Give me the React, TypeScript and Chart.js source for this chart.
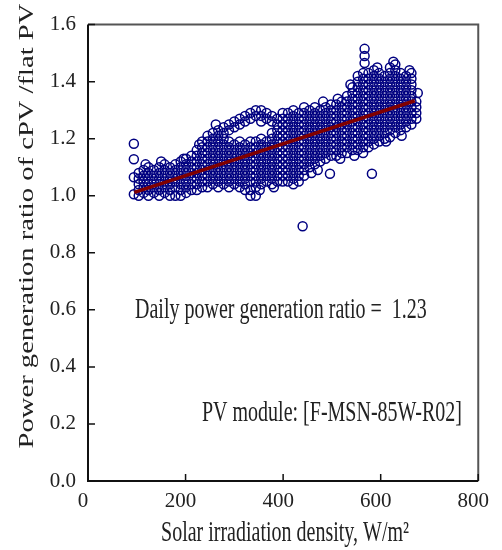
import React, { useEffect, useRef } from 'react';
import { Chart, registerables } from 'chart.js';

Chart.register(...registerables);

const xTicks = [0, 200, 400, 600, 800];
const yTicks = [0, 0.2, 0.4, 0.6, 0.8, 1.0, 1.2, 1.4, 1.6];
const xTitle = 'Solar irradiation density, W/m²';
const yTitle = 'Power generation ratio of cPV /flat PV';
const ratioNote = 'Daily power generation ratio =  1.23';
const moduleNote = 'PV module: [F-MSN-85W-R02]';

// Irradiance (W/m²) of each group of measurements, and the ratios measured at it
const columnIrradiance = [
  104, 114, 124, 135, 146, 157, 168, 179, 190, 201, 212, 223, 234, 245, 256, 267, 278, 289,
  300, 311, 322, 333, 344, 355, 366, 377, 388, 399, 410, 421, 432, 443, 454, 465, 476, 487,
  498, 509, 520, 531, 542, 553, 564, 575, 586, 597, 608, 619, 630, 641, 652, 663, 673,
];
const columnRatios: number[][] = [
  [1.00, 1.02, 1.04, 1.06, 1.08],
  [1.01, 1.03, 1.05, 1.07, 1.09],
  [1.00, 1.02, 1.04, 1.06, 1.08, 1.10],
  [1.01, 1.03, 1.05, 1.07, 1.09],
  [1.00, 1.02, 1.04, 1.06, 1.08, 1.10],
  [1.01, 1.03, 1.05, 1.07, 1.09, 1.11],
  [1.00, 1.02, 1.04, 1.06, 1.08, 1.10],
  [1.00, 1.03, 1.05, 1.07, 1.09, 1.11],
  [1.00, 1.02, 1.04, 1.06, 1.08, 1.10, 1.12],
  [1.01, 1.03, 1.05, 1.07, 1.09, 1.11, 1.13],
  [1.02, 1.04, 1.06, 1.08, 1.10, 1.12, 1.14],
  [1.02, 1.04, 1.06, 1.08, 1.10, 1.12, 1.14, 1.16],
  [1.03, 1.05, 1.07, 1.09, 1.11, 1.13, 1.15, 1.17, 1.19],
  [1.03, 1.05, 1.07, 1.09, 1.11, 1.13, 1.15, 1.17, 1.19, 1.21],
  [1.04, 1.06, 1.08, 1.10, 1.12, 1.14, 1.16, 1.18, 1.20, 1.22],
  [1.03, 1.05, 1.07, 1.09, 1.11, 1.13, 1.15, 1.17, 1.19, 1.21, 1.23],
  [1.04, 1.06, 1.08, 1.10, 1.12, 1.14, 1.16, 1.18, 1.20, 1.22, 1.24],
  [1.03, 1.05, 1.07, 1.09, 1.11, 1.13, 1.15, 1.17, 1.19, 1.23, 1.25],
  [1.04, 1.06, 1.08, 1.10, 1.12, 1.14, 1.16, 1.18, 1.24, 1.26],
  [1.03, 1.05, 1.07, 1.09, 1.11, 1.13, 1.15, 1.17, 1.19, 1.25, 1.27],
  [1.02, 1.04, 1.06, 1.08, 1.10, 1.12, 1.14, 1.16, 1.18, 1.26, 1.28],
  [1.00, 1.02, 1.05, 1.07, 1.09, 1.11, 1.13, 1.15, 1.17, 1.19, 1.27, 1.29],
  [1.00, 1.03, 1.05, 1.07, 1.09, 1.11, 1.13, 1.15, 1.17, 1.19, 1.28, 1.30],
  [1.04, 1.06, 1.08, 1.10, 1.12, 1.14, 1.16, 1.18, 1.20, 1.26, 1.28, 1.30],
  [1.05, 1.07, 1.09, 1.11, 1.13, 1.15, 1.17, 1.19, 1.27, 1.29],
  [1.04, 1.06, 1.08, 1.10, 1.12, 1.14, 1.16, 1.18, 1.20, 1.22, 1.26, 1.28],
  [1.05, 1.07, 1.09, 1.11, 1.13, 1.15, 1.17, 1.19, 1.21, 1.23, 1.25, 1.27],
  [1.05, 1.07, 1.09, 1.11, 1.13, 1.15, 1.17, 1.19, 1.21, 1.23, 1.25, 1.27, 1.29],
  [1.05, 1.07, 1.09, 1.11, 1.13, 1.15, 1.17, 1.19, 1.21, 1.23, 1.25, 1.27, 1.29],
  [1.04, 1.06, 1.08, 1.10, 1.12, 1.14, 1.16, 1.18, 1.20, 1.22, 1.24, 1.26, 1.28, 1.30],
  [1.05, 1.07, 1.09, 1.11, 1.13, 1.15, 1.17, 1.19, 1.21, 1.23, 1.25, 1.27, 1.29],
  [1.07, 1.09, 1.11, 1.13, 1.15, 1.17, 1.19, 1.21, 1.23, 1.25, 1.27, 1.29, 1.31],
  [1.10, 1.12, 1.14, 1.16, 1.18, 1.20, 1.22, 1.24, 1.26, 1.28, 1.30],
  [1.11, 1.13, 1.15, 1.17, 1.19, 1.21, 1.23, 1.25, 1.27, 1.29, 1.31],
  [1.12, 1.14, 1.16, 1.18, 1.20, 1.22, 1.24, 1.26, 1.28, 1.30],
  [1.13, 1.15, 1.17, 1.19, 1.21, 1.23, 1.25, 1.27, 1.29, 1.31],
  [1.14, 1.16, 1.18, 1.20, 1.22, 1.24, 1.26, 1.28, 1.30, 1.32],
  [1.14, 1.16, 1.18, 1.20, 1.22, 1.24, 1.26, 1.28, 1.30, 1.32],
  [1.15, 1.17, 1.19, 1.21, 1.23, 1.25, 1.27, 1.29, 1.31, 1.33],
  [1.15, 1.17, 1.19, 1.21, 1.23, 1.25, 1.27, 1.29, 1.31, 1.33, 1.35],
  [1.16, 1.18, 1.20, 1.22, 1.24, 1.26, 1.28, 1.30, 1.32, 1.34, 1.36, 1.38],
  [1.16, 1.18, 1.20, 1.22, 1.24, 1.26, 1.28, 1.30, 1.32, 1.34, 1.36, 1.38, 1.40, 1.42],
  [1.15, 1.17, 1.19, 1.21, 1.23, 1.25, 1.27, 1.29, 1.31, 1.33, 1.35, 1.37, 1.39, 1.41, 1.43],
  [1.17, 1.19, 1.21, 1.23, 1.25, 1.27, 1.29, 1.31, 1.33, 1.35, 1.37, 1.39, 1.41, 1.43],
  [1.18, 1.20, 1.22, 1.24, 1.26, 1.28, 1.30, 1.32, 1.34, 1.36, 1.38, 1.40, 1.42, 1.44],
  [1.19, 1.21, 1.23, 1.25, 1.27, 1.29, 1.31, 1.33, 1.35, 1.37, 1.39, 1.41, 1.43],
  [1.20, 1.22, 1.24, 1.26, 1.28, 1.30, 1.32, 1.34, 1.36, 1.38, 1.40, 1.42],
  [1.205, 1.23, 1.25, 1.27, 1.29, 1.31, 1.33, 1.35, 1.37, 1.39, 1.41, 1.43, 1.45],
  [1.22, 1.24, 1.26, 1.28, 1.30, 1.32, 1.34, 1.36, 1.38, 1.40, 1.42, 1.44, 1.46],
  [1.23, 1.25, 1.27, 1.29, 1.31, 1.33, 1.35, 1.37, 1.39, 1.41, 1.43],
  [1.24, 1.26, 1.28, 1.30, 1.32, 1.34, 1.36, 1.38, 1.40, 1.42],
  [1.25, 1.27, 1.29, 1.31, 1.33, 1.35, 1.37, 1.39, 1.41, 1.43],
  [1.27, 1.29, 1.31, 1.33],
];

// Scattered measurements along the edges of the main cloud
const edgeIrradiance = [118, 150, 196, 228, 262, 352, 381, 458, 471, 517, 546, 611, 643, 482, 512, 538, 593, 626, 659, 676];
const edgeRatio = [1.11, 1.12, 1.13, 1.18, 1.25, 1.02, 1.03, 1.08, 1.09, 1.13, 1.14, 1.19, 1.21, 1.33, 1.34, 1.39, 1.45, 1.47, 1.44, 1.36];

// Isolated measurements
const outlierIrradiance = [94, 94, 94, 94, 440, 496, 567, 567, 567, 582];
const outlierRatio = [1.005, 1.065, 1.128, 1.182, 0.893, 1.077, 1.465, 1.49, 1.515, 1.077];

// Linear fit
const fitIrradiance = [95, 670];
const fitRatio = [1.012, 1.333];

const TEXT_COLOR = '#222';
const SERIF = '"Liberation Serif", "Times New Roman", serif';
const STRETCH = 1.43;

const framePlugin = {
  id: 'frameAndText',
  afterDraw(chart: any) {
    const { ctx, chartArea } = chart;
    const { left, right, top, bottom } = chartArea;
    const xs = chart.scales.x;
    const ys = chart.scales.y;
    ctx.save();
    // frame
    ctx.lineWidth = 2;
    ctx.strokeStyle = '#555';
    ctx.beginPath();
    ctx.moveTo(left, top);
    ctx.lineTo(right, top);
    ctx.lineTo(right, bottom);
    ctx.stroke();
    ctx.strokeStyle = '#111';
    ctx.beginPath();
    ctx.moveTo(left, top);
    ctx.lineTo(left, bottom);
    ctx.lineTo(right, bottom);
    ctx.stroke();
    // inward tick marks
    ctx.lineWidth = 1.5;
    ctx.beginPath();
    yTicks.forEach((v) => {
      const py = ys.getPixelForValue(v);
      ctx.moveTo(left, py);
      ctx.lineTo(left + 7, py);
    });
    xTicks.forEach((v) => {
      const px = xs.getPixelForValue(v);
      ctx.moveTo(px, bottom);
      ctx.lineTo(px, bottom - 7);
    });
    ctx.stroke();

    ctx.fillStyle = TEXT_COLOR;
    ctx.font = `20px ${SERIF}`;
    ctx.textBaseline = 'middle';
    const stretched = (text: string, x: number, y: number, align: CanvasTextAlign) => {
      ctx.save();
      ctx.translate(x, y);
      ctx.scale(1, STRETCH);
      ctx.textAlign = align;
      ctx.fillText(text, 0, 0);
      ctx.restore();
    };
    stretched(ratioNote, 135, 310, 'left');
    stretched(moduleNote, 202, 413, 'left');
    stretched(xTitle, 285, 533, 'center');
    // y title
    ctx.save();
    ctx.translate(28, 226);
    ctx.rotate(-Math.PI / 2);
    ctx.scale(STRETCH, 1);
    ctx.textAlign = 'center';
    ctx.fillText(yTitle, 0, 0);
    ctx.restore();
    ctx.restore();
  },
};

export default function App() {
  const canvasRef = useRef<HTMLCanvasElement | null>(null);

  useEffect(() => {
    if (!canvasRef.current) return;
    const points = columnIrradiance.flatMap((x, i) => columnRatios[i].map((y) => ({ x, y })));
    const edges = edgeIrradiance.map((x, i) => ({ x, y: edgeRatio[i] }));
    const outliers = outlierIrradiance.map((x, i) => ({ x, y: outlierRatio[i] }));
    const fit = fitIrradiance.map((x, i) => ({ x, y: fitRatio[i] }));
    const markerStyle = {
      pointRadius: 4.5,
      pointHoverRadius: 4.5,
      pointBorderWidth: 1.5,
      pointBorderColor: '#000080',
      pointBackgroundColor: 'rgba(255,255,255,0)',
      borderColor: '#000080',
      backgroundColor: 'rgba(255,255,255,0)',
      showLine: false,
    };
    const chart = new Chart(canvasRef.current, {
      type: 'scatter',
      data: {
        datasets: [
          {
            label: 'Fit',
            data: fit,
            showLine: true,
            borderColor: '#800000',
            borderWidth: 3.5,
            pointRadius: 0,
            order: 0,
          } as any,
          { label: 'Measured', data: points, order: 1, ...markerStyle } as any,
          { label: 'Edge', data: edges, order: 2, ...markerStyle } as any,
          { label: 'Isolated', data: outliers, order: 3, ...markerStyle } as any,
        ],
      },
      options: {
        animation: false,
        responsive: true,
        maintainAspectRatio: false,
        layout: { padding: { left: 0, top: 19, right: 16, bottom: 0 } },
        plugins: { legend: { display: false }, tooltip: { enabled: false } },
        scales: {
          x: {
            type: 'linear',
            min: 0,
            max: 800,
            grid: { display: false, drawTicks: false },
            border: { display: false },
            afterBuildTicks: (s: any) => {
              s.ticks = xTicks.map((v) => ({ value: v }));
            },
            afterFit: (s: any) => {
              s.height = 69;
            },
            ticks: {
              font: { family: SERIF, size: 21 },
              color: TEXT_COLOR,
              padding: 8,
              labelOffset: -5,
              maxRotation: 0,
              callback: (v: any) => String(v),
            },
          },
          y: {
            type: 'linear',
            min: 0,
            max: 1.6,
            grid: { display: false, drawTicks: false },
            border: { display: false },
            afterBuildTicks: (s: any) => {
              s.ticks = yTicks.map((v) => ({ value: v }));
            },
            afterFit: (s: any) => {
              s.width = 88;
            },
            ticks: {
              font: { family: SERIF, size: 21 },
              color: TEXT_COLOR,
              padding: 12,
              callback: (v: any) => Number(v).toFixed(1),
            },
          },
        },
      },
      plugins: [framePlugin],
    });
    return () => chart.destroy();
  }, []);

  return (
    <div style={{ position: 'absolute', left: 0, top: 0, width: 502, height: 550, background: '#fff' }}>
      <canvas ref={canvasRef} style={{ display: 'block' }} />
    </div>
  );
}
